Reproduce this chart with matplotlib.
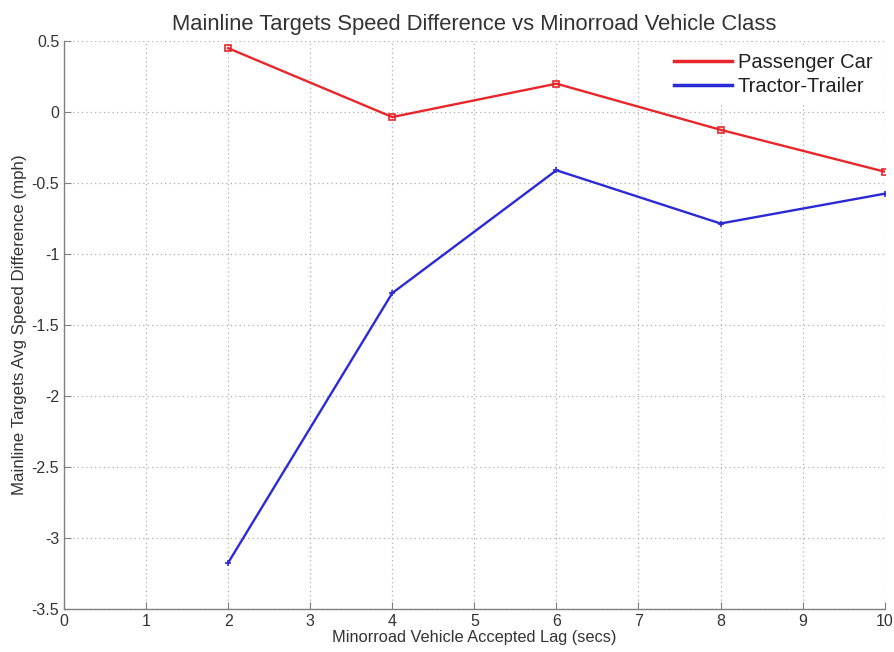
import numpy as np
import matplotlib.pyplot as plt

plt.rcParams['font.family'] = ['Liberation Sans', 'DejaVu Sans']

# Donnees
lag = np.array([2, 4, 6, 8, 10])
passenger_car = np.array([0.45, -0.035, 0.20, -0.125, -0.42])
tractor_trailer = np.array([-3.175, -1.275, -0.41, -0.785, -0.575])

xticks = np.arange(0, 11, 1)
yticks = np.arange(-3.5, 0.51, 0.5)


def fmt(v):
    return f"{v:g}"


def main():
    fig = plt.figure(figsize=(8.95, 6.52), dpi=100)
    ax = fig.add_axes([0.0715, 0.066, 0.917, 0.871])

    ax.plot(lag, passenger_car, color="#e8262b", lw=1.7, marker="s",
            markersize=4, markerfacecolor="none", markeredgewidth=1.2,
            label="Passenger Car")
    ax.plot(lag, tractor_trailer, color="#2a2ad6", lw=1.7, marker="+",
            markersize=4, markeredgewidth=1.2, label="Tractor-Trailer")

    ax.set_xlim(0, 10)
    ax.set_ylim(-3.5, 0.5)
    ax.set_xticks(xticks)
    ax.set_yticks(yticks)
    ax.set_xticklabels([fmt(v) for v in xticks])
    ax.set_yticklabels([fmt(v) for v in yticks])
    ax.grid(True, linestyle=(0, (1, 2.5)), color="#b0b0b0", lw=0.9)
    ax.set_axisbelow(True)

    for side in ["top", "right"]:
        ax.spines[side].set_visible(False)
    for side in ["left", "bottom"]:
        ax.spines[side].set_color("#808080")
        ax.spines[side].set_linewidth(1.0)
    ax.tick_params(direction="in", length=5, colors="#808080",
                   labelcolor="#333333", labelsize=11.5)

    ax.set_title("Mainline Targets Speed Difference vs Minorroad Vehicle Class",
                 fontsize=15.8, color="#333333", pad=8)
    ax.set_xlabel("Minorroad Vehicle Accepted Lag (secs)", fontsize=11.8,
                  color="#333333", labelpad=1)
    ax.set_ylabel("Mainline Targets Avg Speed Difference (mph)", fontsize=12.2,
                  color="#333333", labelpad=3)

    leg = ax.legend(loc="upper right", frameon=True, fontsize=14.5,
                    handlelength=2.9, handletextpad=0.3, borderaxespad=0.2,
                    labelspacing=0.25)
    leg.get_frame().set_edgecolor("none")
    leg.get_frame().set_facecolor("white")
    leg.get_frame().set_alpha(1.0)
    for h in leg.legend_handles:
        h.set_marker("")
        h.set_linewidth(2.5)
    for t in leg.get_texts():
        t.set_color("#222222")

    fig.savefig("out.png", dpi=100)
    plt.close(fig)


if __name__ == "__main__":
    main()
